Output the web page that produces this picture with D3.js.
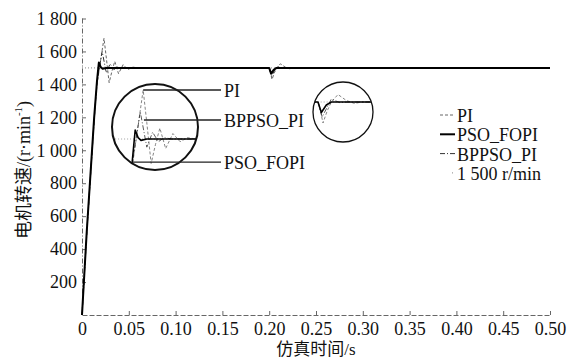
<!DOCTYPE html>
<html lang="zh">

<head>
    <meta charset="UTF-8">
    <title>电机转速响应</title>
    <style>
        body {
            margin: 0;
            background: #fff;
        }

        svg {
            display: block;
        }

        .lbl {
            font-family: "Liberation Serif", serif;
            font-size: 18px;
            fill: #111;
        }
    </style>
</head>

<body>
    <div id="wrapper"></div>

    <script src="https://cdn.jsdelivr.net/npm/d3@7"></script>
    <script>
        // ---- 数据 (从图上读出来的大概数值) ----
        const xTicks = [0, 0.05, 0.10, 0.15, 0.20, 0.25, 0.30, 0.35, 0.40, 0.45, 0.50];
        const xTickLabels = ["0", "0.05", "0.10", "0.15", "0.20", "0.25", "0.30", "0.35", "0.40", "0.45", "0.50"];
        const yTicks = [200, 400, 600, 800, 1000, 1200, 1400, 1600, 1800];
        const yTickLabels = ["200", "400", "600", "800", "1 000", "1 200", "1 400", "1 600", "1 800"];

        // PI
        const piTime = [0, 0.005, 0.009, 0.013, 0.016, 0.0235, 0.026, 0.029, 0.032, 0.035, 0.039, 0.044, 0.049, 0.054, 0.06,
            0.2, 0.2015, 0.203, 0.2055, 0.208, 0.212, 0.217, 0.222, 0.226, 0.5];
        const piSpeed = [0, 480, 830, 1180, 1400, 1680, 1560, 1410, 1480, 1540, 1465, 1520, 1490, 1505, 1500,
            1500, 1470, 1430, 1470, 1500, 1525, 1505, 1495, 1500, 1500];

        // PSO_FOPI
        const psoTime = [0, 0.005, 0.009, 0.013, 0.016, 0.018, 0.020, 0.022, 0.026, 0.2, 0.202, 0.205, 0.208, 0.5];
        const psoSpeed = [0, 500, 850, 1200, 1420, 1533, 1505, 1495, 1500, 1500, 1465, 1490, 1500, 1500];

        // BPPSO_PI
        const bpTime = [0, 0.005, 0.009, 0.013, 0.016, 0.0215, 0.026, 0.030, 0.034, 0.038, 0.043,
            0.2, 0.2025, 0.208, 0.213, 0.218, 0.5];
        const bpSpeed = [0, 490, 840, 1190, 1410, 1600, 1470, 1525, 1490, 1505, 1500,
            1500, 1450, 1510, 1498, 1500, 1500];

        const refSpeed = 1500; // 1 500 r/min
        const legendNames = ["PI", "PSO_FOPI", "BPPSO_PI", "1 500 r/min"];
        // 放大图里引线指向的点 (t, 转速)
        const calloutNames = ["PI", "BPPSO_PI", "PSO_FOPI"];
        const calloutTime = [0.0235, 0.024, 0.016];
        const calloutSpeed = [1680, 1570, 1415];

        // ---- 画布 ----
        const width = 568,
            height = 359;
        const margin = { top: 18.5, right: 18, bottom: 44, left: 82 };
        const serif = '"Liberation Serif", "Times New Roman", serif';

        const svg = d3.select('#wrapper').append('svg')
            .attr('width', width)
            .attr('height', height);

        const x = d3.scaleLinear().domain([0, 0.5]).range([margin.left, width - margin.right]);
        const y = d3.scaleLinear().domain([0, 1800]).range([height - margin.bottom, margin.top]);

        const zip = (ts, vs) => ts.map((t, i) => ({ t: t, v: vs[i] }));
        const piData = zip(piTime, piSpeed),
            psoData = zip(psoTime, psoSpeed),
            bpData = zip(bpTime, bpSpeed),
            refData = [{ t: 0, v: refSpeed }, { t: 0.5, v: refSpeed }];

        // 线型
        const styles = {
            ref: { stroke: "#888", width: 1, dash: "1,2" },
            pi: { stroke: "#666", width: 1, dash: "3,2" },
            bp: { stroke: "#333", width: 1, dash: "5,2,1,2" },
            pso: { stroke: "#000", width: 2, dash: null }
        };

        function drawLines(g, xs, ys, scaleW) {
            const line = d3.line().x(d => xs(d.t)).y(d => ys(d.v));
            [[refData, styles.ref], [piData, styles.pi], [bpData, styles.bp], [psoData, styles.pso]].forEach(([dd, s]) => {
                g.append('path')
                    .attr('d', line(dd))
                    .attr('fill', 'none')
                    .attr('stroke', s.stroke)
                    .attr('stroke-width', s.width * (scaleW || 1))
                    .attr('stroke-dasharray', s.dash)
                    .attr('stroke-linejoin', 'round');
            });
        }

        // ---- 坐标轴 ----
        const xAxis = d3.axisBottom(x)
            .tickValues(xTicks)
            .tickFormat((d, i) => xTickLabels[i])
            .tickSizeInner(-4)
            .tickSizeOuter(0)
            .tickPadding(7);

        const xAxisLine = svg.append('g')
            .attr('transform', `translate(0,${height - margin.bottom})`)
            .call(xAxis);
        xAxisLine.select('.domain').attr('stroke', '#666').attr('stroke-dasharray', '5,2');
        xAxisLine.selectAll('.tick line').attr('stroke', '#666');

        const yAxis = d3.axisLeft(y)
            .tickValues(yTicks)
            .tickFormat((d, i) => yTickLabels[i])
            .tickSizeInner(-4)
            .tickSizeOuter(0)
            .tickPadding(5);

        const yAxisLine = svg.append('g')
            .attr('transform', `translate(${margin.left},0)`)
            .call(yAxis);
        yAxisLine.select('.domain').attr('stroke', '#666').attr('stroke-dasharray', '5,2,1,2')
            .attr('d', `M0.5,${y(1800)}V${y(0)}`);
        yAxisLine.selectAll('.tick line').attr('stroke', '#666');

        // 刻度文字用衬线体
        svg.selectAll('.tick text')
            .attr('font-family', null)
            .style('font-family', serif)
            .style('font-size', '18px')
            .style('fill', '#111');

        // 主曲线
        drawLines(svg.append('g'), x, y);

        // ---- 放大圆 1 (起动段) ----
        const cL = { cx: 155, cy: 127, r: 43 };
        const xInL = d3.scaleLinear().domain([0.002, 0.062]).range([112, 199]);
        const yInL = d3.scaleLinear().domain([1340, 1820]).range([182.5, 52]);

        const defs = svg.append('defs');
        defs.append('clipPath').attr('id', 'clipL').append('circle')
            .attr('cx', cL.cx).attr('cy', cL.cy).attr('r', cL.r);
        svg.append('circle').attr('cx', cL.cx).attr('cy', cL.cy).attr('r', cL.r)
            .attr('fill', '#fff').attr('stroke', 'none');
        drawLines(svg.append('g').attr('clip-path', 'url(#clipL)'), xInL, yInL, 0.8);
        svg.append('circle').attr('cx', cL.cx).attr('cy', cL.cy).attr('r', cL.r)
            .attr('fill', 'none').attr('stroke', '#111').attr('stroke-width', 2);

        // 引线和标注
        calloutNames.forEach((name, i) => {
            const px = xInL(calloutTime[i]),
                py = yInL(calloutSpeed[i]);
            svg.append('line')
                .attr('x1', px).attr('y1', py)
                .attr('x2', 221).attr('y2', py)
                .attr('stroke', '#222').attr('stroke-width', 1.4);
            svg.append('text')
                .attr('class', 'lbl')
                .attr('x', 224).attr('y', py + 1)
                .attr('dominant-baseline', 'central')
                .text(name);
        });

        // ---- 放大圆 2 (突加负载) ----
        const cR = { cx: 343, cy: 112, r: 30 };
        const xInR = d3.scaleLinear().domain([0.197, 0.233]).range([313, 373]);
        const yInR = d3.scaleLinear().domain([1400, 1600]).range([132, 72]);

        defs.append('clipPath').attr('id', 'clipR').append('circle')
            .attr('cx', cR.cx).attr('cy', cR.cy).attr('r', cR.r);
        svg.append('circle').attr('cx', cR.cx).attr('cy', cR.cy).attr('r', cR.r)
            .attr('fill', '#fff').attr('stroke', 'none');
        drawLines(svg.append('g').attr('clip-path', 'url(#clipR)'), xInR, yInR, 0.8);
        svg.append('circle').attr('cx', cR.cx).attr('cy', cR.cy).attr('r', cR.r)
            .attr('fill', 'none').attr('stroke', '#111').attr('stroke-width', 1.3);

        // ---- 图例 ----
        const legendStyles = [styles.pi, styles.pso, styles.bp, styles.ref];
        const legend = svg.append('g').attr('transform', 'translate(440,115)');
        legendNames.forEach((name, i) => {
            const s = legendStyles[i];
            const row = legend.append('g').attr('transform', `translate(0,${i * 19.3})`);
            row.append('line')
                .attr('x1', i === 3 ? 12 : 0).attr('x2', 15)
                .attr('y1', 0).attr('y2', 0)
                .attr('stroke', s.stroke)
                .attr('stroke-width', s.width)
                .attr('stroke-dasharray', s.dash);
            row.append('text')
                .attr('class', 'lbl')
                .attr('x', 17).attr('y', 1)
                .attr('dominant-baseline', 'central')
                .text(name);
        });

        // ---- 轴标题 ----
        svg.append('text')
            .attr('x', (margin.left + width - margin.right) / 2)
            .attr('y', 355)
            .attr('text-anchor', 'middle')
            .style('font-family', serif + ', "Noto Sans CJK SC"')
            .style('font-size', '17px')
            .style('fill', '#111')
            .text('仿真时间/s');

        const yTitle = svg.append('text')
            .attr('transform', 'translate(24,170) rotate(-90)')
            .attr('text-anchor', 'middle')
            .attr('dominant-baseline', 'central')
            .style('font-family', serif + ', "Noto Sans CJK SC"')
            .style('font-size', '18px')
            .style('fill', '#111');
        yTitle.append('tspan').text('电机转速/(r·min');
        yTitle.append('tspan').attr('dy', -6).style('font-size', '11px').text('-1');
        yTitle.append('tspan').attr('dy', 6).text(')');
    </script>
</body>

</html>
